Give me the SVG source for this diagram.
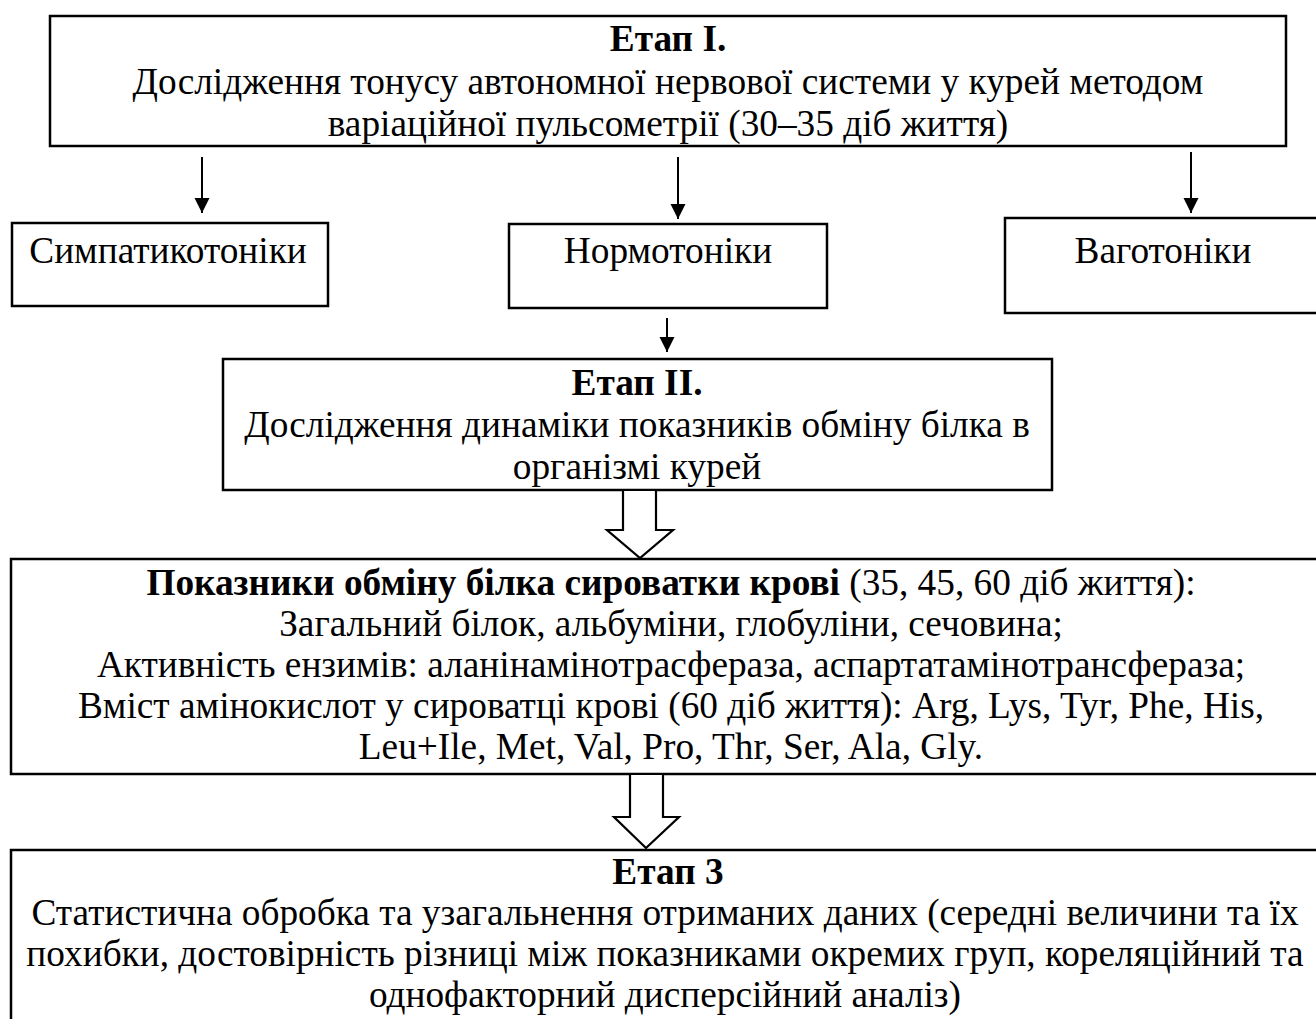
<svg xmlns="http://www.w3.org/2000/svg" width="1316" height="1019" viewBox="0 0 1316 1019">
<style>
.box{fill:#fff;stroke:#000;stroke-width:2.5}
.t{font-family:"Liberation Serif","Times New Roman",serif;font-size:37.3px;fill:#000;text-anchor:middle}
.b{font-weight:bold}
.conn{stroke:#000;stroke-width:2;fill:none}
.hollow{fill:#fff;stroke:#000;stroke-width:2.2;stroke-linejoin:miter}
</style>
<defs>
<marker id="ah" markerUnits="userSpaceOnUse" markerWidth="16" markerHeight="16" refX="15" refY="8" orient="auto">
<path d="M0,0.5 L15,8 L0,15.5 Z" fill="#000"/>
</marker>
</defs>
<g id="etap1">
<rect class="box" x="50" y="16" width="1236" height="130"/>
<text class="t b" x="668" y="51">Етап І.</text>
<text class="t" x="668" y="94">Дослідження тонусу автономної нервової системи у курей методом</text>
<text class="t" x="668" y="136">варіаційної пульсометрії (30–35 діб життя)</text>
</g>
<g id="sympat">
<rect class="box" x="12" y="223" width="316" height="83"/>
<text class="t" x="168" y="263">Симпатикотоніки</text>
</g>
<g id="normo">
<rect class="box" x="509" y="224" width="318" height="84"/>
<text class="t" x="668" y="263">Нормотоніки</text>
</g>
<g id="vago">
<rect class="box" x="1005" y="218" width="330" height="95"/>
<text class="t" x="1163" y="263">Ваготоніки</text>
</g>
<g id="etap2">
<rect class="box" x="223" y="359" width="829" height="131"/>
<text class="t b" x="637" y="395">Етап ІІ.</text>
<text class="t" x="637" y="437">Дослідження динаміки показників обміну білка в</text>
<text class="t" x="637" y="479">організмі курей</text>
</g>
<g id="pokaz">
<rect class="box" x="11" y="559" width="1330" height="215"/>
<text class="t" x="671" y="595"><tspan class="b">Показники обміну білка сироватки крові</tspan> (35, 45, 60 діб життя):</text>
<text class="t" x="671" y="636">Загальний білок, альбуміни, глобуліни, сечовина;</text>
<text class="t" x="671" y="677">Активність ензимів: аланінамінотрасфераза, аспартатамінотрансфераза;</text>
<text class="t" x="671" y="718">Вміст амінокислот у сироватці крові (60 діб життя): Arg, Lys, Tyr, Phe, His,</text>
<text class="t" x="671" y="759">Leu+Ile, Met, Val, Pro, Thr, Ser, Ala, Gly.</text>
</g>
<g id="etap3">
<rect class="box" x="11" y="850" width="1330" height="200"/>
<text class="t b" x="668" y="884">Етап 3</text>
<text class="t" x="665" y="925">Статистична обробка та узагальнення отриманих даних (середні величини та їх</text>
<text class="t" x="665" y="966">похибки, достовірність різниці між показниками окремих груп, кореляційний та</text>
<text class="t" x="665" y="1007">однофакторний дисперсійний аналіз)</text>
</g>
<g id="connectors">
<line class="conn" x1="202" y1="157" x2="202" y2="213" marker-end="url(#ah)"/>
<line class="conn" x1="678" y1="157" x2="678" y2="219" marker-end="url(#ah)"/>
<line class="conn" x1="1191" y1="152" x2="1191" y2="213" marker-end="url(#ah)"/>
<line class="conn" x1="667" y1="318" x2="667" y2="352" marker-end="url(#ah)"/>
<polygon class="hollow" points="623,490 656,490 656,530 673,530 640,558 607,530 623,530"/>
<polygon class="hollow" points="630,774 663,774 663,817 679,817 646,848 614,817 630,817"/>
</g>
</svg>
